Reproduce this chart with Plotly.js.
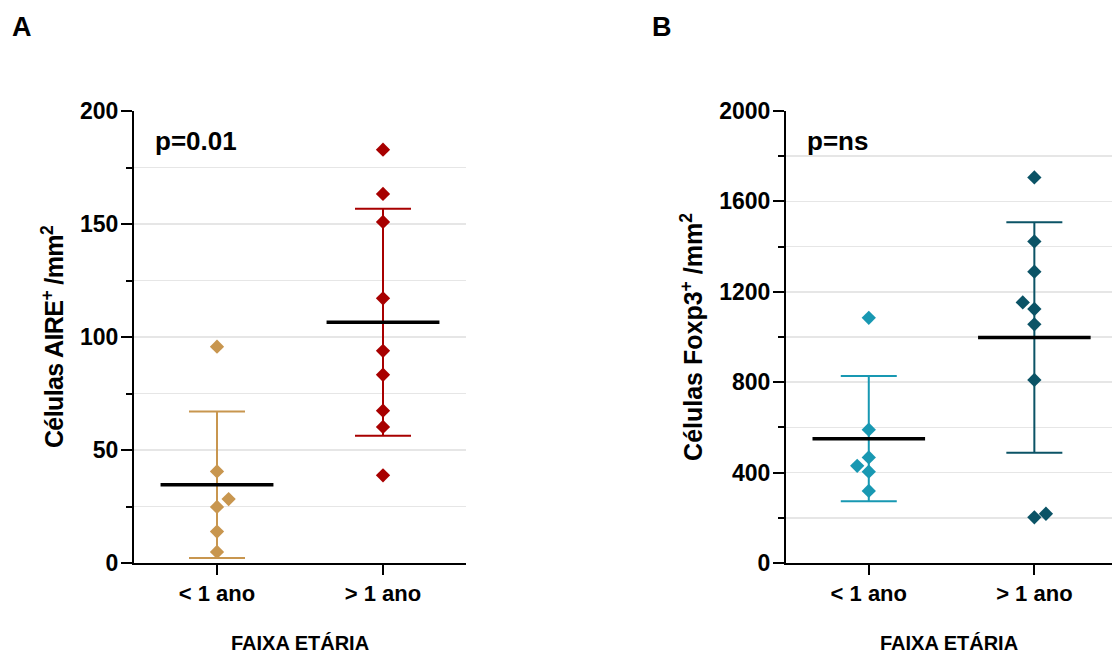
<!DOCTYPE html>
<html><head><meta charset="utf-8">
<script src="https://cdn.plot.ly/plotly-3.0.1.min.js"></script>
<style>body{margin:0;background:#fff;}
#chart .ytitle{letter-spacing:-0.6px;}
</style>
</head><body><div id="chart" style="width:1112px;height:655px;"></div>
<script>
// ---- data ----
const categories = ['< 1 ano', '> 1 ano'];
const aireYoung = [95.7, 40.5, 28.3, 24.8, 13.9, 4.9];
const aireOld = [182.9, 163.3, 150.9, 117.1, 93.9, 83.3, 67.4, 60.2, 38.8];
const aireMean = [34.6, 106.5];
const aireSD = [32.4, 50.2];
const foxYoung = [1085, 590, 467, 430, 404, 319];
const foxOld = [1706, 1423, 1289, 1153, 1124, 1056, 810, 218, 202];
const foxMean = [550, 998];
const foxSD = [277, 510];

// ---- styling ----
const FONT = 'Liberation Sans, Arial, sans-serif';
const colA = ['#c8964f', '#a80000'];
const colB = ['#1898b2', '#0b5366'];
// small horizontal offsets for overlapping points (style, multiples of 0.07 category)
const jit = {
  aY: [0, 0, 1, 0, 0, 0],
  aO: [0, 0, 0, 0, 0, 0, 0, 0, 0],
  fY: [0, 0, 0, -1, 0, 0],
  fO: [0, 0, 0, -1, 0, 0, 0, 1, 0]
};

function group(vals, g, j, color, xa, ya, mean, sd) {
  return [
    { type: 'scatter', mode: 'markers', x: [g], y: [mean], xaxis: xa, yaxis: ya,
      marker: { size: 1, opacity: 0 }, hoverinfo: 'skip',
      error_y: { type: 'data', array: [sd], visible: true, color: color, thickness: 2, width: 28 } },
    { type: 'scatter', mode: 'lines', x: [g - 0.34, g + 0.34], y: [mean, mean], xaxis: xa, yaxis: ya,
      line: { color: '#000', width: 3.5 }, hoverinfo: 'skip' },
    { type: 'scatter', mode: 'markers', x: vals.map((v, i) => g + 0.07 * j[i]), y: vals, xaxis: xa, yaxis: ya,
      marker: { symbol: 'diamond', size: 11, color: color } }
  ];
}

const traces = [].concat(
  group(aireYoung, 0, jit.aY, colA[0], 'x', 'y', aireMean[0], aireSD[0]),
  group(aireOld, 1, jit.aO, colA[1], 'x', 'y', aireMean[1], aireSD[1]),
  group(foxYoung, 0, jit.fY, colB[0], 'x2', 'y2', foxMean[0], foxSD[0]),
  group(foxOld, 1, jit.fO, colB[1], 'x2', 'y2', foxMean[1], foxSD[1])
);

const yTop = 1 - 111 / 655, yBot = 1 - 563 / 655;
function xax(domain, range, anchor) {
  return {
    domain: domain, range: range, anchor: anchor,
    tickvals: [0, 1], ticktext: categories,
    ticks: 'outside', ticklen: 10, tickwidth: 2, tickcolor: '#000',
    showline: true, linewidth: 2, linecolor: '#000', showgrid: false, zeroline: false,
    tickfont: { family: FONT, size: 22, weight: 'bold', color: '#000' },
    title: { text: 'FAIXA ETÁRIA', font: { family: FONT, size: 20, weight: 'bold', color: '#000' }, standoff: 31 }
  };
}
function yax(range, dtick, minor, title, anchor) {
  return {
    domain: [yBot, yTop], range: range, anchor: anchor, dtick: dtick,
    ticks: 'outside', ticklen: 11, tickwidth: 2, tickcolor: '#000',
    ticklabelstandoff: -2,
    showline: true, linewidth: 2, linecolor: '#000', zeroline: false,
    showgrid: true, gridcolor: '#e6e6e6', gridwidth: 1.5,
    minor: { dtick: minor, ticks: 'outside', ticklen: 6, tickwidth: 2, tickcolor: '#000', showgrid: true, gridcolor: '#e6e6e6', gridwidth: 1.5 },
    tickfont: { family: FONT, size: 23, weight: 'bold', color: '#000' },
    title: { text: title, font: { family: FONT, size: 25, weight: 'bold', color: '#000' }, standoff: 9 }
  };
}

const layout = {
  width: 1112, height: 655,
  margin: { l: 0, r: 0, t: 0, b: 0 },
  paper_bgcolor: '#fff', plot_bgcolor: '#fff',
  showlegend: false,
  font: { family: FONT, color: '#000' },
  xaxis: xax([134 / 1112, 466 / 1112], [-0.5, 1.5], 'y'),
  yaxis: yax([0, 200], 50, 25, 'Células AIRE<sup>+</sup> /mm<sup>2</sup>', 'x'),
  xaxis2: xax([786 / 1112, 1], [-0.5, 1.469], 'y2'),
  yaxis2: yax([0, 2000], 400, 200, 'Células Foxp3<sup>+</sup> /mm<sup>2</sup>', 'x2'),
  annotations: [
    { text: 'A', xref: 'paper', yref: 'paper', x: 10 / 1112, y: 1 - 27 / 655, xanchor: 'left', yanchor: 'middle', showarrow: false, font: { family: FONT, size: 27, weight: 'bold' } },
    { text: 'B', xref: 'paper', yref: 'paper', x: 650 / 1112, y: 1 - 27 / 655, xanchor: 'left', yanchor: 'middle', showarrow: false, font: { family: FONT, size: 27, weight: 'bold' } },
    { text: 'p=0.01', xref: 'paper', yref: 'paper', x: 153 / 1112, y: 1 - 141 / 655, xanchor: 'left', yanchor: 'middle', showarrow: false, font: { family: FONT, size: 26, weight: 'bold' } },
    { text: 'p=ns', xref: 'paper', yref: 'paper', x: 805 / 1112, y: 1 - 141 / 655, xanchor: 'left', yanchor: 'middle', showarrow: false, font: { family: FONT, size: 26, weight: 'bold' } }
  ]
};

Plotly.newPlot('chart', traces, layout, { displayModeBar: false, staticPlot: true });
</script>
</body></html>
